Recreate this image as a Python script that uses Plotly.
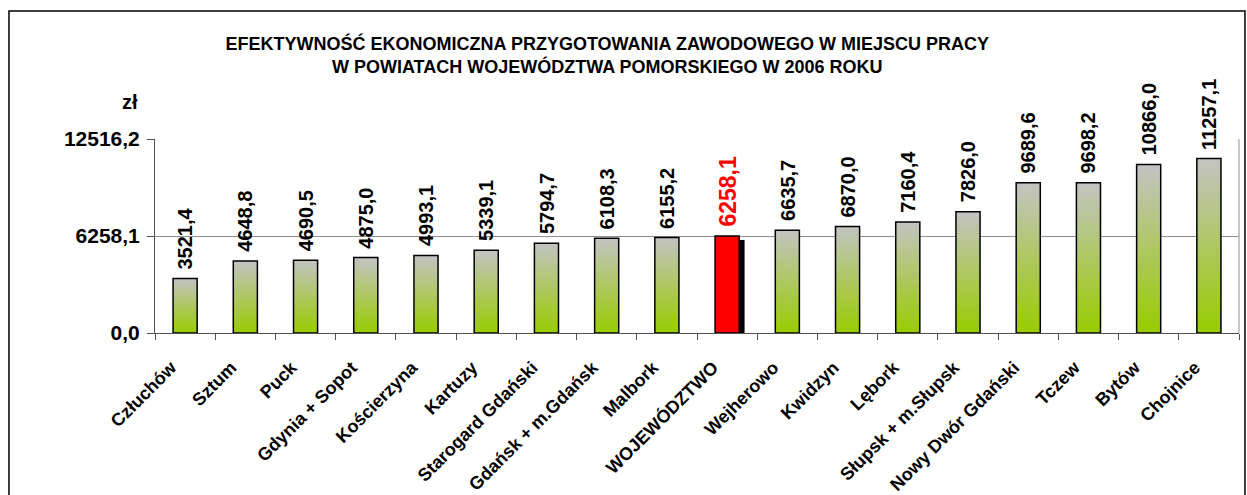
import plotly.graph_objects as go

# data
powiaty = ['Człuchów', 'Sztum', 'Puck', 'Gdynia + Sopot', 'Kościerzyna', 'Kartuzy',
           'Starogard Gdański', 'Gdańsk + m.Gdańsk', 'Malbork', 'WOJEWÓDZTWO',
           'Wejherowo', 'Kwidzyn', 'Lębork', 'Słupsk + m.Słupsk', 'Nowy Dwór Gdański',
           'Tczew', 'Bytów', 'Chojnice']
wartosci = [3521.4, 4648.8, 4690.5, 4875.0, 4993.1, 5339.1, 5794.7, 6108.3, 6155.2,
            6258.1, 6635.7, 6870.0, 7160.4, 7826.0, 9689.6, 9698.2, 10866.0, 11257.1]
y_ticks = [0.0, 6258.1, 12516.2]
srednia = 'WOJEWÓDZTWO'

FONT = 'Liberation Sans, Arial, sans-serif'
HALF = 0.2  # half of bar width in category units


def fmt(v):
    return f'{v:.1f}'.replace('.', ',')


fig = go.Figure()

idx = list(range(len(powiaty)))
hl = powiaty.index(srednia)

for i, v in zip(idx, wartosci):
    xs = [i - HALF, i - HALF, i + HALF, i + HALF, i - HALF]
    ys = [0, v, v, 0, 0]
    if i == hl:
        # shadow behind the highlighted bar
        dx, dy = 0.09, 260
        fig.add_trace(go.Scatter(
            x=[x + dx for x in xs], y=[0, v - dy, v - dy, 0, 0],
            mode='lines', fill='toself', fillcolor='black',
            line=dict(color='black', width=0), hoverinfo='skip', showlegend=False
        ))
        fig.add_trace(go.Scatter(
            x=xs, y=ys, mode='lines', fill='toself', fillcolor='#ff0000',
            line=dict(color='black', width=1.5), hoverinfo='skip', showlegend=False
        ))
    else:
        fig.add_trace(go.Scatter(
            x=xs, y=ys, mode='lines', fill='toself',
            fillgradient=dict(type='vertical',
                              colorscale=[[0, '#99cc00'], [1, '#c3c3c3']]),
            line=dict(color='black', width=1.5), hoverinfo='skip', showlegend=False
        ))

# value labels above the bars
for i, v in zip(idx, wartosci):
    red = i == hl
    fig.add_annotation(
        x=i, y=v, text=fmt(v), textangle=-90, showarrow=False,
        xanchor='center', yanchor='bottom', yshift=7,
        font=dict(family=FONT, size=23 if red else 20, weight='bold',
                  color='#ff0000' if red else 'black')
    )

# unit label
fig.add_annotation(
    x=-0.032, y=1.26, xref='paper', yref='paper', text='zł', showarrow=False,
    font=dict(family=FONT, size=20, weight='bold', color='black')
)

# outer frame and right edge of plot area
fig.add_shape(type='rect', xref='paper', yref='paper',
              x0=-0.1347, x1=1.0055, y0=-0.9, y1=1.66,
              line=dict(color='black', width=1.5))
fig.add_shape(type='line', xref='paper', yref='paper',
              x0=1, x1=1, y0=0, y1=1, line=dict(color='#909090', width=1))

fig.update_layout(
    width=1247, height=495,
    margin=dict(l=155, r=8, t=139, b=162),
    paper_bgcolor='white', plot_bgcolor='white',
    showlegend=False,
    title=dict(
        text='EFEKTYWNOŚĆ EKONOMICZNA PRZYGOTOWANIA ZAWODOWEGO W MIEJSCU PRACY<br>'
             'W POWIATACH WOJEWÓDZTWA POMORSKIEGO W 2006 ROKU',
        x=0.487, xanchor='center', xref='container',
        y=0.90, yanchor='top', yref='container',
        font=dict(family=FONT, size=18, weight='bold', color='black')
    ),
    font=dict(family=FONT, color='black'),
)

fig.update_xaxes(
    range=[-0.5, len(powiaty) - 0.5],
    tickmode='array', tickvals=idx, ticktext=powiaty,
    tickangle=-45, ticks='', ticklabelshift=-14, ticklabelstandoff=16,
    tickfont=dict(family=FONT, size=18, weight='bold', color='black'),
    showgrid=False, zeroline=False,
    showline=True, linecolor='#505050', linewidth=1,
    minor=dict(tickmode='array', tickvals=[i - 0.5 for i in range(len(powiaty) + 1)],
               ticks='outside', ticklen=6, tickcolor='#505050', showgrid=False),
    automargin=False,
)

fig.update_yaxes(
    range=[0, y_ticks[-1]],
    tickmode='array', tickvals=y_ticks, ticktext=[fmt(t) for t in y_ticks],
    ticks='outside', ticklen=7, tickcolor='#505050', ticklabelstandoff=3,
    tickfont=dict(family=FONT, size=21, weight='bold', color='black'),
    showgrid=True, gridcolor='#909090', gridwidth=1,
    zeroline=False, showline=True, linecolor='#505050', linewidth=1,
    automargin=False,
)

# drop the default page margin so the figure sits at the window origin
fig.write_html('out.html', config={'displayModeBar': False},
               post_script="document.body.style.margin='0';")
